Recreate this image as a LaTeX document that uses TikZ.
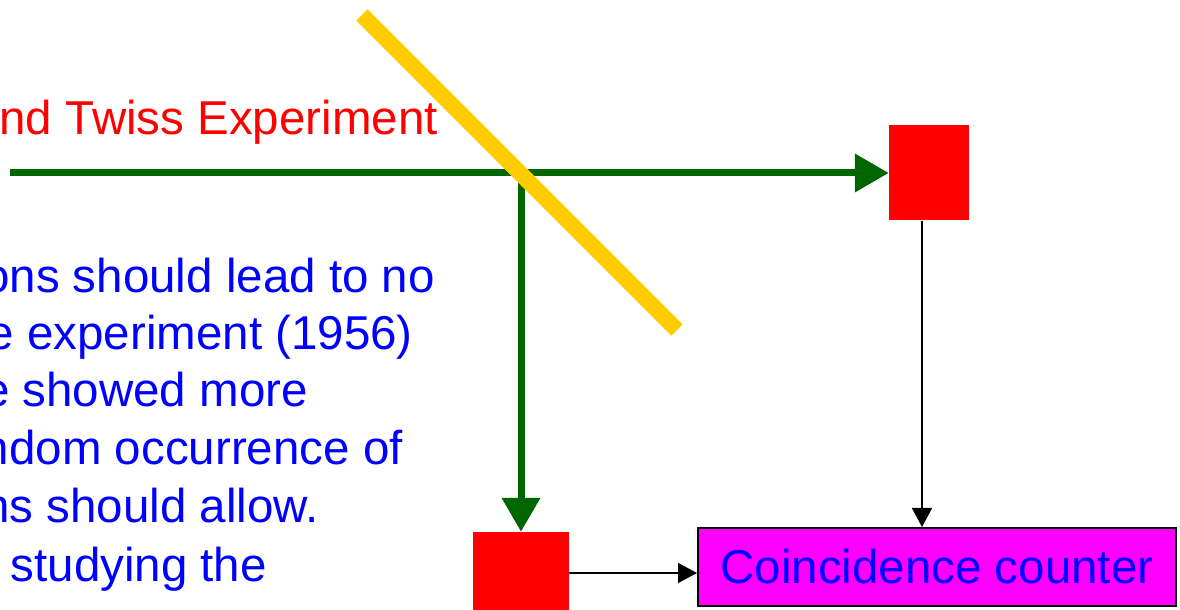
\documentclass[tikz,border=0pt]{standalone}
\usepackage{fontspec}
\setmainfont{Liberation Sans}
\usetikzlibrary{arrows.meta}
\definecolor{beamgreen}{HTML}{006600}
\definecolor{mirror}{HTML}{FFCC00}
\definecolor{counterfill}{RGB}{255,0,255}
\tikzset{
  detector/.style={fill=red, draw=none, inner sep=0pt},
  beam/.style={draw=beamgreen, line width=7pt, -{Triangle[length=34pt,width=37pt]}},
  wire/.style={draw=black, line width=1.5pt, -{Triangle[length=19pt,width=20pt]}},
}
\begin{document}
\begin{tikzpicture}[x=1pt, y=1pt, font=\fontsize{47.5}{56}\selectfont]
    \useasboundingbox (0,0) rectangle (1180,610);
    % Title, cut at the left edge
    \node[red, anchor=base east, inner sep=0pt] (title) at (438,475) {nd Twiss Experiment};
    % Text block
    \foreach \rx/\by/\txt [count=\i] in {435/317/{ons should lead to no},
        413/260/{e experiment (1956)}, 308/203/{e showed more},
        403/145/{ndom occurrence of}, 319/87/{ns should allow.},
        267/28/{ studying the}}
      \node[blue, anchor=base east, inner sep=0pt] (line\i) at (\rx,\by) {\txt};
    % Detectors and counter
    \node[detector, minimum width=80pt, minimum height=95pt] (detA) at (929,437) {};
    \node[detector, minimum width=96pt, minimum height=82pt] (detB) at (521,37) {};
    \node[draw=black, line width=2pt, fill=counterfill, text=blue, minimum width=478pt,
          minimum height=78pt, inner sep=0pt] (counter) at (937,43) {Coincidence counter};
    % Light beams
    \coordinate (laser) at (10,437);
    \coordinate (split) at (521,440.5);
    \draw[beam] (laser) -- (detA.west);
    \draw[beam] (split) -- (detB.north);
    % Beam splitter
    \coordinate (bsTop) at (362,595);
    \coordinate (bsBot) at (677,280);
    \draw[mirror, line width=16pt] (bsTop) -- (bsBot);
    % Signals to the counter
    \draw[wire] ([xshift=-7pt]detA.south) -- ([xshift=-7pt]detA.south |- counter.north);
    \draw[wire] (detB.east) -- (detB.east -| counter.west);
\end{tikzpicture}
\end{document}
